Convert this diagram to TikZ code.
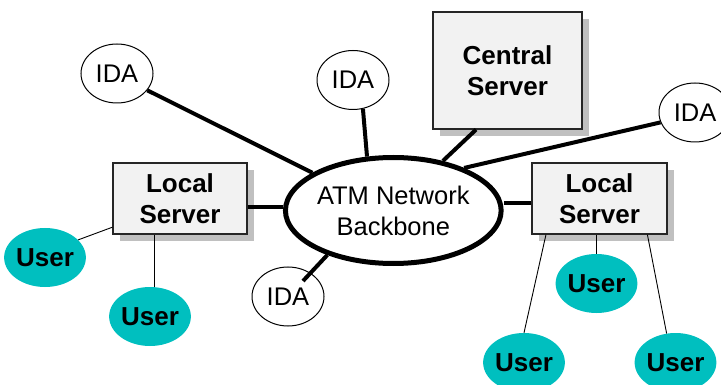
\documentclass[tikz,border=0pt]{standalone}
\usepackage{fontspec}
\setmainfont{Liberation Sans}
\usetikzlibrary{shapes.geometric,shadows,calc}
\definecolor{boxfill}{HTML}{F2F2F2}
\definecolor{boxshadow}{HTML}{C0C0C0}
\definecolor{userteal}{HTML}{00BFBF}
\begin{document}
\begin{tikzpicture}[x=1pt,y=-1pt,
  txt/.style={font=\fontsize{25.5}{31}\selectfont, align=center, inner sep=0pt},
  boldtxt/.style={font=\fontsize{26}{31}\selectfont\bfseries},
  idanode/.style={txt, ellipse, draw=black, line width=1pt, fill=white,
    minimum width=72pt, minimum height=59pt},
  usernode/.style={txt, boldtxt, ellipse, fill=userteal,
    minimum width=72pt, minimum height=59pt},
  serverbox/.style={txt, boldtxt, rectangle, draw=black!85, line width=1.2pt, fill=boxfill,
    drop shadow={shadow xshift=7pt, shadow yshift=-7pt, fill=boxshadow, opacity=1}},
  backbone/.style={txt, ellipse, draw=black, line width=5pt, fill=white,
    minimum width=215pt, minimum height=106pt},
  trunk/.style={line width=4pt},
  drop/.style={line width=0.9pt}]
\useasboundingbox (0,0) rectangle (721,385);

% backbone and servers
\node[backbone] (atm) at (393.3,210.5) {ATM Network\\Backbone};
\node[serverbox, minimum width=134pt, minimum height=71pt] (lls) at (180,198.5) {Local\\Server};
\node[serverbox, minimum width=149pt, minimum height=117pt] (cs) at (507.5,70.5) {Central\\Server};
\node[serverbox, minimum width=135pt, minimum height=71pt] (rls) at (599.5,198.5) {Local\\Server};

% IDA stations
\node[idanode] (ida1) at (117,73.5) {IDA};
\node[idanode] (ida2) at (353,80) {IDA};
\node[idanode] (ida3) at (288,296.5) {IDA};
\node[idanode] (ida4) at (695,112.5) {IDA};

% users
\node[usernode] (u1) at (45,257.5) {User};
\node[usernode] (u2) at (150,316.5) {User};
\node[usernode] (u3) at (596.5,283.5) {User};
\node[usernode] (u4) at (524,362.5) {User};
\node[usernode] (u5) at (675.5,362.5) {User};

% backbone links
\draw[trunk] (ida1.-29.3) -- (atm.155.8);
\draw[trunk] (ida2.-71) -- (atm.116);
\draw[trunk] (cs.-118.3) -- (atm.45);
\draw[trunk] (ida4.-164.6) -- (atm.31);
\draw[trunk] (lls.-7.8) -- (lls.-7.8 -| atm.west);
\draw[trunk] (rls.184) -- (rls.184 -| atm.east);
\draw[trunk] (atm.-146.8) -- ($(ida3.center)+(15,-15.5)$);

% user drops
\draw[drop] (lls.203.8) -- (u1.28.5);
\draw[drop] (lls.-125.9) -- (lls.-125.9 |- u2.north);
\draw[drop] (u3.north) -- (u3.north |- rls.south);
\draw[drop] (rls.-146.6) -- (u4.north);
\draw[drop] (rls.-37.5) -- (u5.107);
\end{tikzpicture}
\end{document}
